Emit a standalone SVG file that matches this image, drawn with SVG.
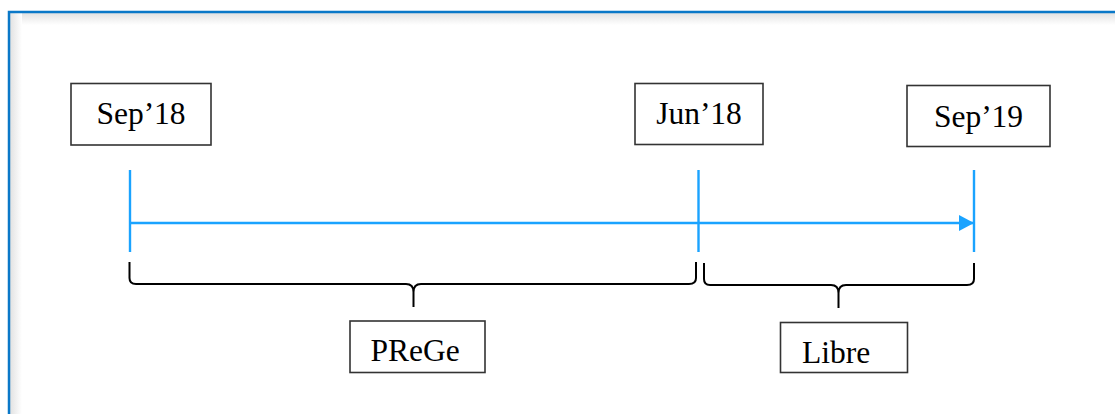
<svg xmlns="http://www.w3.org/2000/svg" width="1115" height="414" viewBox="0 0 1115 414">
<style>
.box{fill:#fff;stroke:#333;stroke-width:1.6}
.lbl{font-family:"Liberation Serif","Times New Roman",serif;font-size:31.5px;fill:#000}
.tl{stroke:#1aa3ff;stroke-width:2.4;fill:none}
.br{stroke:#000;stroke-width:2;fill:none}
</style>
<defs>
<linearGradient id="gt" x1="0" y1="0" x2="0" y2="1">
<stop offset="0" stop-color="#e2e2e2"/><stop offset="1" stop-color="#fff"/>
</linearGradient>
<linearGradient id="gl" x1="0" y1="0" x2="1" y2="0">
<stop offset="0" stop-color="#e2e2e2"/><stop offset="1" stop-color="#fff"/>
</linearGradient>
<marker id="ah" viewBox="0 0 10 10" refX="10" refY="5" markerWidth="15" markerHeight="16" markerUnits="userSpaceOnUse" orient="auto" preserveAspectRatio="none">
<path d="M0,0 L10,5 L0,10 Z" fill="#1aa3ff"/>
</marker>
</defs>
<rect x="0" y="0" width="1115" height="414" fill="#fff"/>
<g id="frame">
<rect x="10" y="13" width="1105" height="12" fill="url(#gt)"/>
<rect x="10" y="13" width="12" height="401" fill="url(#gl)"/>
<path d="M9,414 V12 H1115" stroke="#0a78c8" stroke-width="2.5" fill="none"/>
</g>
<g id="connectors">
<line class="tl" x1="130" y1="170" x2="130" y2="252"/>
<line class="tl" x1="698.5" y1="170" x2="698.5" y2="252"/>
<line class="tl" x1="974" y1="170" x2="974" y2="252"/>
<line class="tl" x1="130" y1="223" x2="974" y2="223" marker-end="url(#ah)"/>
<path class="br" d="M129.5,262 V278 Q129.5,284 136,284 H406 Q413.5,284 413.5,292 V307 M413.5,292 Q413.5,284 421,284 H689 Q696,284 696,278 V262"/>
<path class="br" d="M704,263 V279 Q704,285 710,285 H831 Q838.5,285 838.5,293 V308 M838.5,293 Q838.5,285 846,285 H967 Q974,285 974,279 V263"/>
</g>
<g id="sep18">
<rect class="box" x="71" y="83.5" width="140" height="61.5"/>
<text class="lbl" x="141" y="124" text-anchor="middle">Sep’18</text>
</g>
<g id="jun18">
<rect class="box" x="635" y="83.5" width="128" height="61"/>
<text class="lbl" x="699" y="124" text-anchor="middle">Jun’18</text>
</g>
<g id="sep19">
<rect class="box" x="907" y="85.5" width="143" height="61"/>
<text class="lbl" x="978.5" y="126.5" text-anchor="middle">Sep’19</text>
</g>
<g id="prege">
<rect class="box" x="350" y="321" width="135" height="51.5"/>
<text class="lbl" x="415" y="361" text-anchor="middle">PReGe</text>
</g>
<g id="libre">
<rect class="box" x="780.5" y="322.5" width="127" height="50"/>
<text class="lbl" x="802" y="362.5">Libre</text>
</g>
</svg>
